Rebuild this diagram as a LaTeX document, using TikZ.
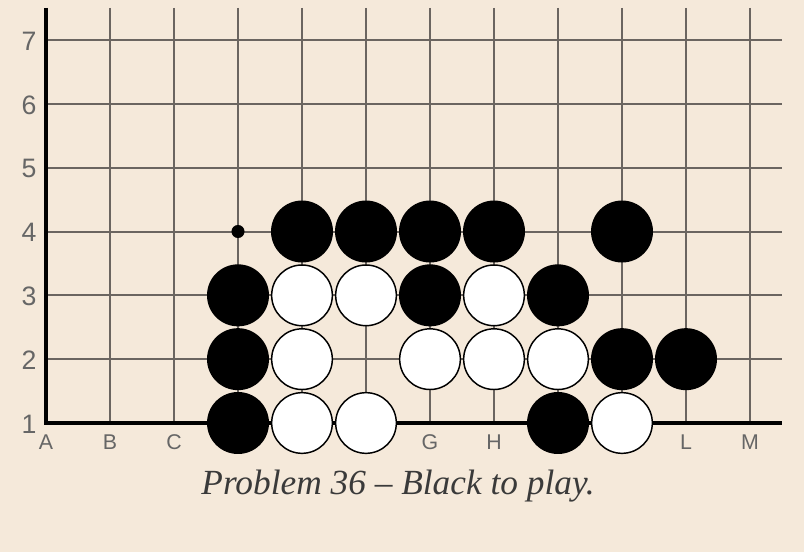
\documentclass[tikz,border=0pt]{standalone}
\usepackage{fontspec}
\setmainfont{Liberation Serif}
\setsansfont{Liberation Sans}
\usetikzlibrary{positioning}

\definecolor{boardbg}{RGB}{245,233,218}
\definecolor{gridline}{RGB}{107,101,96}
\definecolor{labelgray}{RGB}{102,102,102}
\definecolor{captiontext}{RGB}{58,58,58}

\begin{document}
\begin{tikzpicture}[x=0.75pt, y=-0.75pt,
  gridthin/.style={draw=gridline, line width=1.5pt},
  gridedge/.style={draw=black, line width=2.3pt},
  blackstone/.style={circle, fill=black, inner sep=0pt, minimum size=46.5pt},
  whitestone/.style={circle, fill=white, draw=black, line width=1.1pt,
    inner sep=0pt, minimum size=45.5pt},
  rowlabel/.style={font=\sffamily\fontsize{20}{22}\selectfont, text=labelgray},
  collabel/.style={font=\sffamily\fontsize{16}{18}\selectfont, text=labelgray}]

% --- board background / bounding box ---
\path[fill=boardbg, use as bounding box] (0,0) rectangle (804,552);

% --- grid lines ---
\foreach \i in {1,...,11}
  \draw[gridthin] (46+64*\i, 8) -- (46+64*\i, 423);
\foreach \j in {2,...,7}
  \draw[gridthin] (46, 423-63.83*\j+63.83) -- (782, 423-63.83*\j+63.83);
\draw[gridedge] (46, 8) -- (46, 423) -- (782, 423);

% --- coordinate labels ---
\foreach \j in {1,...,7}
  \node[rowlabel] (row\j) at (29, 424-63.83*\j+63.83) {\j};
\foreach \c/\i in {A/0, B/1, C/2, G/6, H/7, L/10, M/11}
  \node[collabel] (col\c) at (46+64*\i, 442) {\c};

% --- marker at D4 ---
\fill (238, 231.5) circle (4.9pt);
\coordinate (markD4) at (238, 231.5);

% --- stones ---
\foreach \name/\i/\j in {E4/4/4, F4/5/4, G4/6/4, H4/7/4, K4/9/4,
    D3/3/3, G3/6/3, J3/8/3, D2/3/2, K2/9/2, L2/10/2, D1/3/1, J1/8/1}
  \node[blackstone] (\name) at (46+64*\i, 423-63.83*\j+63.83) {};
\foreach \name/\i/\j in {E3/4/3, F3/5/3, H3/7/3, E2/4/2, G2/6/2, H2/7/2,
    J2/8/2, E1/4/1, F1/5/1, K1/9/1}
  \node[whitestone] (\name) at (46+64*\i, 423-63.83*\j+63.83) {};

% --- caption ---
\node[font=\itshape\fontsize{26.5}{30}\selectfont, text=captiontext]
  (caption) at (398, 486) {Problem 36 -- Black to play.};

\end{tikzpicture}
\end{document}
